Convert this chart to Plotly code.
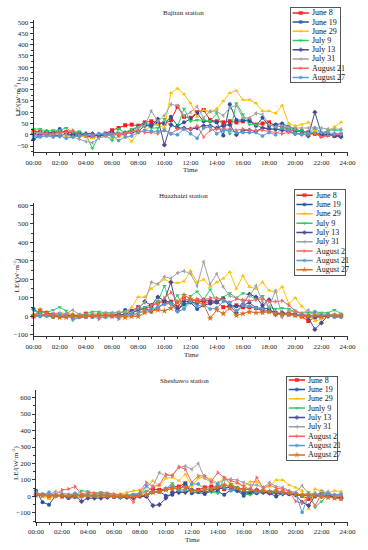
import plotly.graph_objects as go

# ---------------- data ----------------
times = [0, 0.5, 1, 1.5, 2, 2.5, 3, 3.5, 4, 4.5, 5, 5.5, 6, 6.5, 7, 7.5, 8, 8.5, 9, 9.5,
         10, 10.5, 11, 11.5, 12, 12.5, 13, 13.5, 14, 14.5, 15, 15.5, 16, 16.5, 17, 17.5,
         18, 18.5, 19, 19.5, 20, 20.5, 21, 21.5, 22, 22.5, 23, 23.5]
tick_hours = [0, 2, 4, 6, 8, 10, 12, 14, 16, 18, 20, 22, 24]
tick_labels = ["00:00", "02:00", "04:00", "06:00", "08:00", "10:00", "12:00",
               "14:00", "16:00", "18:00", "20:00", "22:00", "24:00"]

# Bajitan station
bj_jun08 = [15,12,10,8,10,12,8,5,-5,-10,0,5,20,30,42,45,40,55,60,55,50,65,125,80,75,100,110,65,60,55,60,55,60,65,45,50,55,40,35,25,15,15,10,5,-5,0,-5,0]
bj_jun19 = [-20,-5,15,5,25,5,0,5,0,-5,0,5,10,5,10,20,35,50,45,50,50,80,40,55,70,95,60,60,55,-3,135,65,65,60,40,75,40,45,50,35,25,15,10,5,5,0,0,-5]
bj_jun29 = [10,5,0,-5,-5,-5,-5,-5,-10,-15,-10,-10,-15,-10,0,-30,10,20,40,45,30,185,205,180,140,80,110,100,115,150,185,195,155,155,140,105,105,95,130,50,40,45,55,20,10,15,35,55]
bj_jul09 = [25,25,15,20,20,30,10,15,0,-60,-5,0,-25,25,10,25,35,50,30,30,70,40,35,115,60,65,65,60,95,35,5,140,90,45,45,30,30,20,30,30,20,15,10,10,5,20,20,20]
bj_jul13 = [5,0,0,0,-5,5,-5,-5,5,5,-5,0,5,0,5,10,15,40,40,70,-45,45,30,30,25,30,40,40,30,40,45,0,20,20,15,30,25,25,20,15,5,5,-5,100,5,0,-5,-10]
bj_jul31 = [10,10,5,0,5,0,-10,-20,-30,-35,-15,-5,0,5,5,10,30,40,105,60,85,135,130,85,100,125,75,105,105,85,120,130,75,75,95,90,45,35,40,35,30,30,30,30,30,25,25,25]
bj_aug21 = [0,-5,5,5,10,10,20,0,-5,0,5,5,5,0,5,15,20,10,10,5,20,5,25,25,25,40,-10,20,25,25,25,20,25,20,20,20,15,10,5,10,5,5,0,5,-10,-5,0,0]
bj_aug27 = [-5,-10,-5,-10,-5,-15,-10,-5,0,-5,5,0,-5,-25,-10,-5,10,20,15,15,20,5,0,25,5,-15,30,35,5,20,20,10,10,10,10,-5,10,0,30,20,5,0,5,30,10,10,5,5]

# Huazhaizi station
hz_jun08 = [0,30,20,10,10,5,0,5,15,5,10,5,10,5,10,30,50,40,55,75,80,80,50,95,85,85,80,75,80,50,55,60,50,50,45,30,30,20,15,15,10,0,-25,-5,0,5,5,5]
hz_jun19 = [40,15,5,0,5,0,5,0,0,0,5,5,5,10,35,25,30,45,25,50,70,75,35,65,75,40,60,70,75,100,55,55,60,75,45,45,40,15,15,10,10,5,0,-5,0,0,0,5]
hz_jun29 = [10,5,0,5,10,15,15,5,5,10,10,15,15,20,25,50,105,105,150,175,200,185,180,190,245,185,200,160,185,205,240,150,220,160,150,185,140,130,160,70,100,55,20,-25,-15,0,5,5]
hz_jul09 = [30,20,20,35,50,30,-20,-5,15,25,25,20,20,20,25,20,30,50,65,80,165,65,115,40,110,135,90,145,80,105,125,100,125,115,90,110,50,40,45,40,25,20,20,25,20,20,35,15]
hz_jul13 = [5,5,5,0,0,5,5,0,0,0,5,5,5,10,10,15,40,80,60,105,85,185,30,80,80,70,90,85,80,95,60,20,65,120,105,60,90,10,20,15,10,5,-5,-70,-35,5,5,0]
hz_jul31 = [5,10,5,10,20,15,35,10,5,15,10,20,20,25,20,20,45,75,185,175,215,205,235,245,230,165,295,175,230,160,110,100,80,110,165,80,50,140,-5,30,25,15,35,10,15,10,10,10]
hz_aug02 = [10,5,10,10,5,10,5,-5,0,5,-15,5,10,-15,10,5,20,35,60,70,100,130,80,95,85,95,90,100,100,90,75,95,90,85,90,95,80,80,85,60,30,15,5,5,5,5,5,0]
hz_aug21 = [0,0,5,5,5,5,-10,-5,-5,5,0,-5,0,-5,5,10,15,30,40,50,65,70,25,40,80,55,65,40,45,80,75,30,60,55,45,40,25,15,10,10,5,5,5,25,5,10,-5,-5]
hz_aug27 = [5,35,15,0,-5,-5,0,0,0,0,5,5,0,5,-5,0,0,20,30,35,30,45,75,115,95,80,65,-10,35,15,45,5,15,25,20,20,25,15,10,10,5,0,0,5,0,5,5,5]

# Sheshawo station
ss_jun08 = [15,10,5,5,0,0,5,5,5,5,5,5,0,0,0,5,5,5,45,40,45,60,60,80,35,40,55,60,55,45,65,50,40,20,35,30,25,30,25,20,15,5,-15,5,10,5,0,-5]
ss_jun19 = [35,-35,-50,5,5,-10,-5,0,5,0,0,5,0,-5,0,5,5,5,25,30,5,10,40,75,20,25,15,35,30,10,40,35,5,25,20,25,20,0,20,15,10,5,5,0,30,10,-5,-10]
ss_jun29 = [10,5,-15,5,0,0,-5,5,5,5,0,5,10,15,25,35,40,55,95,65,110,115,95,135,65,110,120,105,80,115,75,80,60,90,90,55,60,100,100,70,55,35,-75,45,30,25,35,30]
ss_jul09 = [5,10,5,10,10,5,5,35,30,20,25,20,10,5,5,15,20,35,25,30,45,80,20,40,30,35,30,25,20,115,75,55,15,10,25,30,25,20,25,20,20,5,25,-65,-30,10,5,5]
ss_jul13 = [10,10,10,5,5,-5,5,-30,-10,-10,-10,-5,0,-5,-5,-10,0,0,-55,-50,-10,25,25,25,40,35,25,40,45,55,55,35,20,25,40,25,20,20,15,15,10,-35,-55,5,0,0,-5,-10]
ss_jul31 = [25,10,10,30,20,15,15,10,15,15,15,10,10,10,10,10,15,25,60,145,125,130,175,185,165,200,110,85,80,100,105,100,85,70,70,55,85,60,55,35,25,65,15,20,5,30,0,5]
ss_aug02 = [15,10,5,10,40,45,60,15,25,20,20,20,15,10,5,-35,30,85,60,70,135,125,180,165,85,125,125,90,145,115,95,85,65,40,115,50,70,50,45,30,-30,-40,0,-55,15,15,10,5]
ss_aug21 = [25,10,25,0,10,5,20,0,10,5,10,5,0,-5,5,10,10,65,30,25,50,60,40,40,75,75,45,45,75,55,35,50,40,45,30,35,30,35,20,25,15,-95,5,15,5,15,10,15]
ss_aug27 = [10,5,0,5,5,0,5,5,5,5,5,5,0,0,0,0,5,10,25,30,40,45,50,55,35,35,40,45,55,70,60,50,45,40,35,35,30,30,25,20,15,10,10,5,0,-5,-10,-15]

# ---------------- styles ----------------
RED, BLUE, GOLD, GREEN = "#FF1A1A", "#1F56A5", "#FFC000", "#2FCB66"
PURPLE, GRAY, PINK, LBLUE, ORANGE = "#4A4A92", "#A0A0A0", "#FF6262", "#5B9BD5", "#D9701E"

panels = [
    dict(title="Bajitan station", yr=[-78, 509], dtick=50, minor=25,
         series=[("June 8", bj_jun08, RED, "square"), ("June 19", bj_jun19, BLUE, "circle"),
                 ("June 29", bj_jun29, GOLD, "triangle-up"), ("July 9", bj_jul09, GREEN, "triangle-down"),
                 ("July 13", bj_jul13, PURPLE, "diamond"), ("July 31", bj_jul31, GRAY, "triangle-left"),
                 ("August 21", bj_aug21, PINK, "triangle-right"), ("August 27", bj_aug27, LBLUE, "hexagon")],
         ydom_px=(18.3, 151.7), xdom_px=(26.7, 355),
         title_px=(183, 11), ytitle_px=(9.5, 98), xtitle_px=(191, 170),
         leg_x=(296, 347), leg_y=(6, 81), leg_first=11, leg_step=9.3),
    dict(title="Huazhaizi station", yr=[-107, 612], dtick=100, minor=50,
         series=[("June 8", hz_jun08, RED, "square"), ("June 19", hz_jun19, BLUE, "circle"),
                 ("June 29", hz_jun29, GOLD, "triangle-up"), ("July 9", hz_jul09, GREEN, "triangle-down"),
                 ("July 13", hz_jul13, PURPLE, "diamond"), ("July 31", hz_jul31, GRAY, "triangle-left"),
                 ("August 2", hz_aug02, PINK, "triangle-right"), ("August 21", hz_aug21, LBLUE, "hexagon"),
                 ("August 27", hz_aug27, ORANGE, "star")],
         ydom_px=(203, 337.3), xdom_px=(26.7, 355),
         title_px=(183, 196), ytitle_px=(9.3, 276), xtitle_px=(192, 356),
         leg_x=(300, 352), leg_y=(190, 275), leg_first=195, leg_step=9.4),
    dict(title="Sheshawo station", yr=[-152, 645], dtick=100, minor=50,
         series=[("June 8", ss_jun08, RED, "square"), ("June 19", ss_jun19, BLUE, "circle"),
                 ("June 29", ss_jun29, GOLD, "triangle-up"), ("Junly 9", ss_jul09, GREEN, "triangle-down"),
                 ("July 13", ss_jul13, PURPLE, "diamond"), ("July 31", ss_jul31, GRAY, "triangle-left"),
                 ("August 2", ss_aug02, PINK, "triangle-right"), ("August 21", ss_aug21, LBLUE, "hexagon"),
                 ("August 27", ss_aug27, ORANGE, "star")],
         ydom_px=(391.7, 524.3), xdom_px=(29.3, 355),
         title_px=(185, 382), ytitle_px=(8.5, 465), xtitle_px=(193, 543),
         leg_x=(292, 344), leg_y=(378, 462), leg_first=381.5, leg_step=9.45),
]

W, H = 368, 550
FONT = "Liberation Serif"
AX = "#333333"
fig = go.Figure()
layout = dict(width=W, height=H, margin=dict(l=0, r=0, t=0, b=0),
              paper_bgcolor="white", plot_bgcolor="white", showlegend=False,
              font=dict(family=FONT, size=7, color="#222"))
annotations = []

def px2x(px):
    return px / W

def px2y(py):
    return 1 - py / H

def note(text, px, py, size=7, angle=0):
    return dict(text=text, x=px2x(px), y=px2y(py), xref="paper", yref="paper",
                xanchor="center", yanchor="middle", showarrow=False, textangle=angle,
                font=dict(size=size, family=FONT, color="#222"))

for k, p in enumerate(panels):
    n = k + 1
    sfx = "" if n == 1 else str(n)
    xa, ya = "x" + sfx, "y" + sfx
    for name, vals, col, sym in p["series"]:
        fig.add_trace(go.Scatter(
            x=times, y=vals, mode="lines+markers", name=name, xaxis=xa, yaxis=ya,
            line=dict(color=col, width=1), cliponaxis=False,
            marker=dict(symbol=sym, size=4 if sym != "star" else 5, color=col, line=dict(width=0))))
    layout["xaxis" + sfx] = dict(
        domain=[px2x(p["xdom_px"][0]), px2x(p["xdom_px"][1])], anchor=ya, range=[0, 24],
        tickmode="array", tickvals=tick_hours, ticktext=tick_labels, ticklabeloverflow="allow",
        showline=True, linecolor=AX, linewidth=1, ticks="outside", ticklen=3, tickwidth=1,
        tickcolor=AX, showgrid=False, zeroline=False, tickfont=dict(size=7, family=FONT, color="#222"),
        minor=dict(tickmode="linear", tick0=0, dtick=1, ticks="outside", ticklen=2, tickcolor=AX))
    layout["yaxis" + sfx] = dict(
        domain=[px2y(p["ydom_px"][1]), px2y(p["ydom_px"][0])], anchor=xa, range=p["yr"],
        tickmode="linear", tick0=0, dtick=p["dtick"], ticklabeloverflow="allow",
        showline=True, linecolor=AX, linewidth=1, ticks="outside", ticklen=3, tickwidth=1,
        tickcolor=AX, showgrid=False, zeroline=False, tickfont=dict(size=7, family=FONT, color="#222"),
        minor=dict(tickmode="linear", tick0=0, dtick=p["minor"], ticks="outside", ticklen=2, tickcolor=AX))

    annotations.append(note(p["title"], *p["title_px"]))
    annotations.append(note("Time", *p["xtitle_px"]))
    annotations.append(note("LE/(W·m<sup>-2</sup>)", *p["ytitle_px"], angle=-90))

    # legend box on its own axis pair
    li = 4 + k
    lx, ly = "x%d" % li, "y%d" % li
    lw = p["leg_x"][1] - p["leg_x"][0]
    top = (p["leg_y"][0] - p["leg_first"]) / p["leg_step"]
    bot = (p["leg_y"][1] - p["leg_first"]) / p["leg_step"]
    layout["xaxis%d" % li] = dict(domain=[px2x(p["leg_x"][0]), px2x(p["leg_x"][1])], anchor=ly,
                                  range=[0, lw], showline=True, mirror=True, linecolor="#555", linewidth=1,
                                  showticklabels=False, ticks="", showgrid=False, zeroline=False, fixedrange=True)
    layout["yaxis%d" % li] = dict(domain=[px2y(p["leg_y"][1]), px2y(p["leg_y"][0])], anchor=lx,
                                  range=[bot, top], showline=True, mirror=True, linecolor="#555", linewidth=1,
                                  showticklabels=False, ticks="", showgrid=False, zeroline=False, fixedrange=True)
    for i, (name, vals, col, sym) in enumerate(p["series"]):
        fig.add_trace(go.Scatter(
            x=[1.5, 10, 18.5], y=[i, i, i], mode="lines+markers", xaxis=lx, yaxis=ly,
            line=dict(color=col, width=1.5), hoverinfo="skip",
            marker=dict(symbol=sym, size=[0, 4 if sym != "star" else 5, 0], color=col, line=dict(width=0))))
        annotations.append(dict(text=name, x=19.5, y=i, xref=lx, yref=ly, xanchor="left", yanchor="middle",
                                showarrow=False, font=dict(size=8, family=FONT, color="#111")))

layout["annotations"] = annotations
fig.update_layout(**layout)
fig.write_html("out.html", config={"displayModeBar": False},
               post_script="document.body.style.margin='0';document.body.style.overflow='hidden';")
